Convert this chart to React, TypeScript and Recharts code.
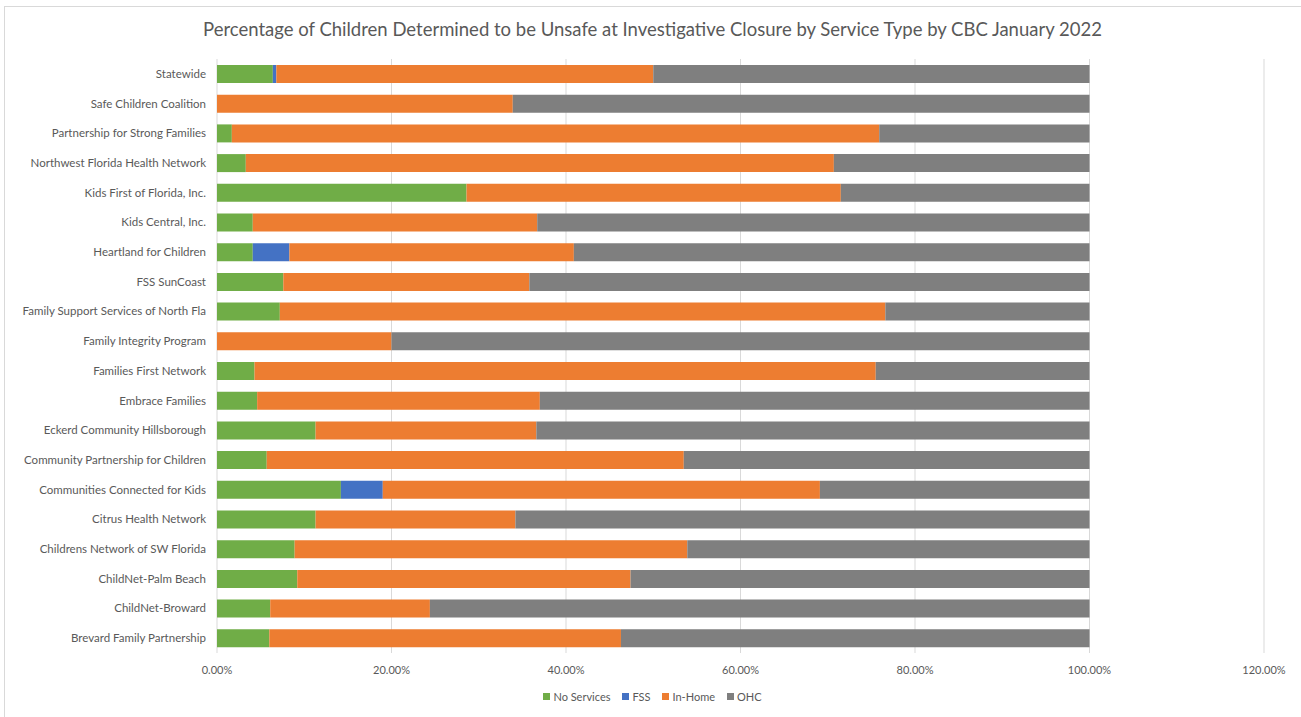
import { BarChart, Bar, XAxis, YAxis, CartesianGrid } from 'recharts'

// ── Data (percent of children) ───────────────────────────────────────────────

const categories = [
  'Statewide',
  'Safe Children Coalition',
  'Partnership for Strong Families',
  'Northwest Florida Health Network',
  'Kids First of Florida, Inc.',
  'Kids Central, Inc.',
  'Heartland for Children',
  'FSS SunCoast',
  'Family Support Services of North Fla',
  'Family Integrity Program',
  'Families First Network',
  'Embrace Families',
  'Eckerd Community Hillsborough',
  'Community Partnership for Children',
  'Communities Connected for Kids',
  'Citrus Health Network',
  'Childrens Network of SW Florida',
  'ChildNet-Palm Beach',
  'ChildNet-Broward',
  'Brevard Family Partnership',
]

const noServices = [6.4, 0, 1.7, 3.3, 28.6, 4.1, 4.1, 7.6, 7.2, 0, 4.3, 4.6, 11.3, 5.7, 14.2, 11.3, 8.9, 9.2, 6.1, 6.0]
const fss = [0.4, 0, 0, 0, 0, 0, 4.2, 0, 0, 0, 0, 0, 0, 0, 4.8, 0, 0, 0, 0, 0]
const inHome = [43.2, 33.9, 74.2, 67.4, 42.9, 32.6, 32.6, 28.2, 69.4, 20.0, 71.2, 32.4, 25.3, 47.8, 50.1, 22.9, 45.0, 38.2, 18.3, 40.3]
const ohc = [50.0, 66.1, 24.1, 29.3, 28.5, 63.3, 59.1, 64.2, 23.4, 80.0, 24.5, 63.0, 63.4, 46.5, 30.9, 65.8, 46.1, 52.6, 75.6, 53.7]

const xTicks = [0, 20, 40, 60, 80, 100, 120]

const SERIES = [
  { key: 'noServices', name: 'No Services', color: '#70ad47' },
  { key: 'fss', name: 'FSS', color: '#4472c4' },
  { key: 'inHome', name: 'In-Home', color: '#ed7d31' },
  { key: 'ohc', name: 'OHC', color: '#7f7f7f' },
]

const data = categories.map((name, i) => ({
  name,
  noServices: noServices[i],
  fss: fss[i],
  inHome: inHome[i],
  ohc: ohc[i],
}))

const FONT = 'Lato, "Open Sans", sans-serif'
const TEXT = '#595959'

// single-line category label (the default tick wraps long names)
// eslint-disable-next-line @typescript-eslint/no-explicit-any
const CategoryTick = ({ x, y, payload }: any) => (
  <text x={x - 3} y={y} dy={4} textAnchor="end" fill={TEXT} fontSize={11.5} fontFamily={FONT}>
    {payload.value}
  </text>
)

export default function App() {
  return (
    <div style={{ position: 'absolute', left: 0, top: 0, width: 1301, height: 717, background: '#fff', fontFamily: FONT }}>
      {/* chart frame */}
      <div style={{ position: 'absolute', left: 4, top: 6, right: -2, bottom: -2, borderLeft: '1px solid #d9d9d9', borderTop: '1px solid #d9d9d9' }} />
      <div
        style={{
          position: 'absolute', left: 0, top: 18, width: 1305, textAlign: 'center',
          fontSize: 18.5, color: TEXT, fontFamily: FONT,
        }}
      >
        Percentage of Children Determined to be Unsafe at Investigative Closure by Service Type by CBC January 2022
      </div>
      <BarChart
        width={1301}
        height={717}
        data={data}
        layout="vertical"
        margin={{ top: 59, right: 37, bottom: 34, left: 0 }}
        style={{ position: 'absolute', left: 0, top: 0 }}
      >
        <CartesianGrid horizontal={false} stroke="#d9d9d9" />
        <XAxis
          type="number"
          domain={[0, 120]}
          ticks={xTicks}
          tickFormatter={(v: number) => `${v.toFixed(2)}%`}
          axisLine={false}
          tickLine={false}
          tickMargin={7}
          height={30}
          tick={{ fill: TEXT, fontSize: 11, fontFamily: FONT }}
        />
        <YAxis
          type="category"
          dataKey="name"
          width={217}
          interval={0}
          axisLine={false}
          tickLine={false}
          tick={<CategoryTick />}
        />
        {SERIES.map((s) => (
          <Bar key={s.key} dataKey={s.key} name={s.name} stackId="a" fill={s.color} barSize={18} isAnimationActive={false} />
        ))}
      </BarChart>
      {/* legend */}
      <div
        style={{
          position: 'absolute', left: 0, top: 690, width: 1305, display: 'flex', justifyContent: 'center',
          gap: 12, fontSize: 11, color: TEXT, fontFamily: FONT,
        }}
      >
        {SERIES.map((s) => (
          <span key={s.key} style={{ display: 'flex', alignItems: 'center', gap: 3 }}>
            <span style={{ width: 7, height: 7, background: s.color, display: 'inline-block' }} />
            {s.name}
          </span>
        ))}
      </div>
    </div>
  )
}
